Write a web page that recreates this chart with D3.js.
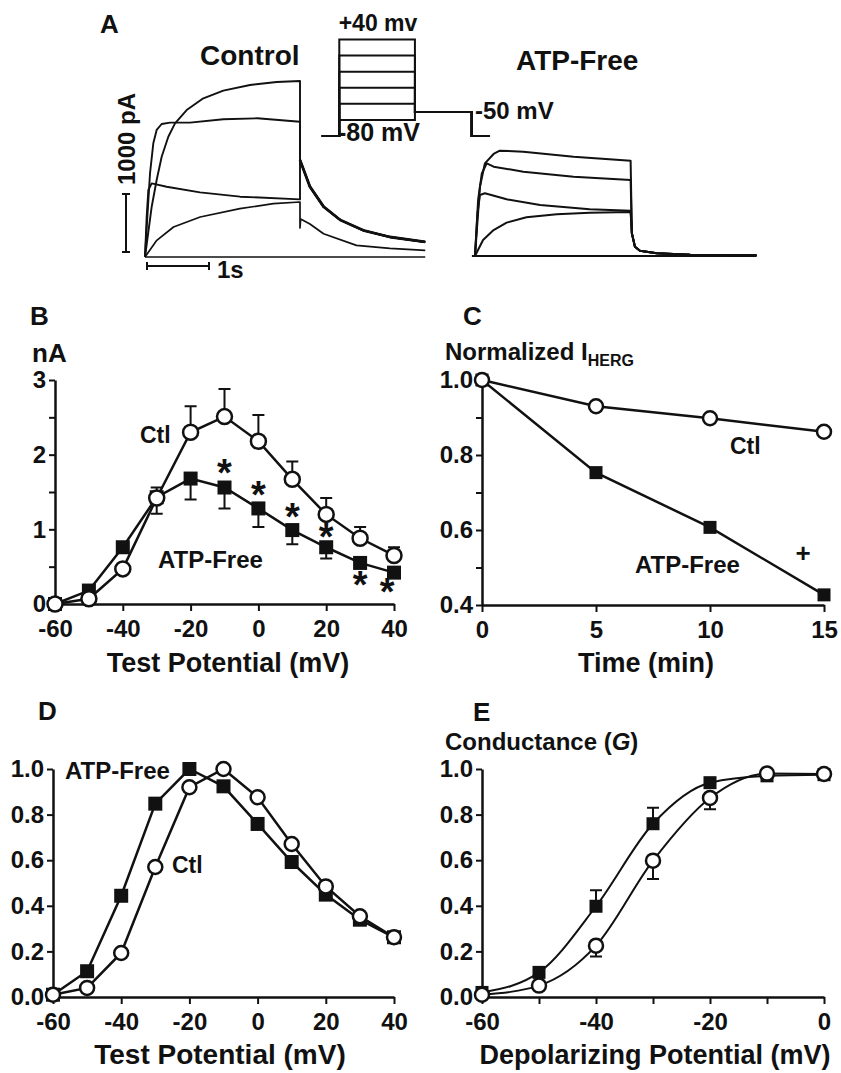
<!DOCTYPE html>
<html>
<head>
<meta charset="utf-8">
<script src="https://cdn.jsdelivr.net/npm/d3@7"></script>
<style>
  body { margin: 0; background: #fff; }
  svg text { font-family: "Liberation Sans", Arial, sans-serif; font-weight: bold; fill: #111; }
</style>
</head>
<body>
<svg id="fig" width="841" height="1073"></svg>
<script>
// ---- data ----
// panel A: current traces, [time (s), current (pA)]
const ctlTrace1 = [[0,0],[0.108,867],[0.188,1328],[0.269,1729],[0.376,2074],[0.484,2305],[0.672,2534],[0.941,2736],[1.263,2868],[1.694,2966],[2.124,3017],[2.5,3034]];
const ctlTrace2 = [[0,0],[0.038,695],[0.081,1443],[0.134,1960],[0.188,2190],[0.269,2293],[0.403,2316],[0.726,2316],[1.263,2374],[1.81,2391],[2.5,2333]];
const ctlTrace3 = [[0,0],[0.027,695],[0.054,1155],[0.108,1270],[0.349,1212],[0.887,1115],[1.532,1040],[2.5,994]];
const ctlTrace4 = [[0,0],[0.19,287],[0.46,517],[0.89,690],[1.53,833],[2.07,920],[2.5,948]];
const ctlTailBig = [[2.5,1672],[2.66,1213],[2.88,868],[3.15,638],[3.52,460],[3.95,345],[4.52,259]];
const ctlTailSmall = [[2.5,500],[2.51,655],[2.66,570],[2.88,402],[3.41,201],[3.95,150],[4.52,115]];

const atpTrace1 = [[0,0],[0.08,1195],[0.16,1598],[0.30,1759],[0.40,1816],[0.78,1799],[1.59,1713],[2.51,1644]];
const atpTrace2 = [[0,0],[0.05,966],[0.11,1425],[0.19,1598],[0.30,1540],[0.78,1454],[1.59,1368],[2.51,1310]];
const atpTrace3 = [[0,0],[0.04,736],[0.08,1052],[0.16,1081],[0.51,977],[1.05,879],[1.85,805],[2.51,781]];
const atpTrace4 = [[0,0],[0.13,276],[0.30,448],[0.51,575],[0.83,667],[1.32,718],[1.85,747],[2.51,759]];
const atpTail = [[2.53,391],[2.58,161],[2.66,92],[2.93,46],[3.47,23],[4.54,11]];

// voltage protocol (mV, s)
const stepLevels = [-60, -40, -20, 0, 20, 40];
const holdMv = -80, tailMv = -50;
const protoTimes = [0, 0.93, 4.93, 7.93, 8.9];

// panel B: I-V (nA)
const voltages = [-60, -50, -40, -30, -20, -10, 0, 10, 20, 30, 40];
const ivCtl = [0, 0.07, 0.47, 1.42, 2.30, 2.51, 2.18, 1.67, 1.20, 0.88, 0.65];
const ivCtlErr = [0, 0, 0.03, 0.14, 0.35, 0.37, 0.35, 0.24, 0.22, 0.15, 0.11];
const ivAtp = [0, 0.18, 0.76, 1.43, 1.68, 1.56, 1.28, 0.99, 0.76, 0.55, 0.42];
const ivAtpErr = [0, 0, 0.05, 0.22, 0.28, 0.28, 0.25, 0.19, 0.15, 0.06, 0.04];
const starV = [-10, 0, 10, 20, 30, 38];
const starAt = [1.79, 1.50, 1.21, 0.94, 0.29, 0.20];

// panel C: time course
const times = [0, 5, 10, 15];
const tcCtl = [1.0, 0.93, 0.898, 0.862];
const tcAtp = [1.0, 0.753, 0.607, 0.427];

// panel D: normalized I-V
const normCtl = [0.01, 0.04, 0.193, 0.57, 0.92, 1.0, 0.876, 0.671, 0.485, 0.354, 0.262];
const normAtp = [0.01, 0.113, 0.444, 0.848, 1.0, 0.924, 0.759, 0.592, 0.449, 0.339, 0.262];

// panel E: conductance
const gV = [-60, -50, -40, -30, -20, -10, 0];
const gCtl = [0.01, 0.05, 0.225, 0.598, 0.873, 0.98, 0.978];
const gCtlErr = [0, 0, 0.047, 0.08, 0.05, 0, 0];
const gAtp = [0.02, 0.108, 0.398, 0.76, 0.94, 0.97, 0.975];
const gAtpErr = [0, 0, 0.07, 0.07, 0, 0, 0];

// ---- drawing ----
const ink = '#111';
const svg = d3.select('#fig');

function label(txt, x, y, size, anchor) {
  return svg.append('text').attr('x', x).attr('y', y)
    .attr('font-size', size).attr('text-anchor', anchor || 'start').text(txt);
}

// panel A
const tC = d3.scaleLinear([0, 1], [145, 207]);
const iC = d3.scaleLinear([0, 1000], [257, 199]);
const tA = d3.scaleLinear([0, 1], [475, 537]);
const iA = d3.scaleLinear([0, 1000], [256, 198]);

function trace(pts, ts, is, w) {
  svg.append('path')
    .attr('d', d3.line().x(d => ts(d[0])).y(d => is(d[1]))(pts))
    .attr('fill', 'none').attr('stroke', ink).attr('stroke-width', w)
    .attr('stroke-linejoin', 'round');
}

trace([[0, 0], [4.52, 0]], tC, iC, 1.6);
[ctlTrace1, ctlTrace2, ctlTrace3].forEach(tr => trace(tr.concat(ctlTailBig), tC, iC, 1.9));
trace(ctlTrace4.concat(ctlTailSmall), tC, iC, 1.7);
trace(ctlTailBig, tC, iC, 2.8);

trace([[-0.05, 0], [4.54, 0]], tA, iA, 1.8);
[atpTrace1, atpTrace2, atpTrace3, atpTrace4].forEach(tr => trace(tr.concat(atpTail), tA, iA, 2));

// scale bars
svg.append('path')
  .attr('d', `M126,${iC(1000) - 5}V${iC(0) - 5}M122,${iC(1000) - 5}H130M122,${iC(0) - 5}H130`)
  .attr('stroke', ink).attr('stroke-width', 2).attr('fill', 'none');
svg.append('path')
  .attr('d', `M${tC(0) + 2},266H${tC(1) + 2}M${tC(0) + 2},262V270M${tC(1) + 2},262V270`)
  .attr('stroke', ink).attr('stroke-width', 2).attr('fill', 'none');
label('1s', 217, 278, 24);
svg.append('text').attr('transform', 'translate(135,139) rotate(-90)')
  .attr('font-size', 24).attr('text-anchor', 'middle').text('1000 pA');

// protocol
const pT = d3.scaleLinear([0, 8.9], [321.7, 490]);
const pV = d3.scaleLinear([-80, 40], [136, 39.5]);
const [t0, t1, t2, t3, t4] = protoTimes;
stepLevels.forEach(lv => {
  const pts = [[t0, holdMv], [t1, holdMv], [t1, lv], [t2, lv], [t2, tailMv], [t3, tailMv], [t3, holdMv], [t4, holdMv]];
  svg.append('path')
    .attr('d', d3.line().x(d => pT(d[0])).y(d => pV(d[1]))(pts))
    .attr('fill', 'none').attr('stroke', ink).attr('stroke-width', 2);
});
label('+40 mv', 378, 31, 23, 'middle');
label('-80 mV', 338, 141, 25);
label('-50 mV', 475, 119, 24);
label('A', 100, 33, 26);
label('Control', 200, 65, 28);
label('ATP-Free', 516, 70, 28);

// xy panels
function panel(o) {
  const x = d3.scaleLinear(o.xDomain, o.xRange);
  const y = d3.scaleLinear(o.yDomain, o.yRange);
  const g = svg.append('g');
  g.append('g').attr('transform', `translate(0,${o.yRange[0]})`)
    .call(d3.axisBottom(x).tickValues(o.xTicks).tickFormat(o.xFormat)
      .tickSize(7).tickSizeOuter(0).tickPadding(9));
  g.append('g').attr('transform', `translate(${o.xRange[0]},0)`)
    .call(d3.axisLeft(y).tickValues(o.yTicks).tickFormat(o.yFormat)
      .tickSize(6).tickSizeOuter(0).tickPadding(3));
  g.selectAll('.domain').attr('stroke', ink).attr('stroke-width', 2.5);
  g.selectAll('.tick line').attr('stroke', ink).attr('stroke-width', 2);
  g.selectAll('.tick text').attr('font-size', 24).attr('fill', ink);
  return { g, x, y };
}

function series(p, xs, ys, opt) {
  const pts = xs.map((v, i) => [p.x(v), p.y(ys[i])]);
  if (opt.err) {
    const dir = opt.errDir;
    xs.forEach((v, i) => {
      const e = opt.err[i];
      if (!e) return;
      const yEnd = p.y(ys[i] + dir * e);
      p.g.append('path')
        .attr('d', `M${pts[i][0]},${pts[i][1]}V${yEnd}M${pts[i][0] - 6},${yEnd}H${pts[i][0] + 6}`)
        .attr('stroke', ink).attr('stroke-width', 2).attr('fill', 'none');
    });
  }
  const line = d3.line().curve(opt.curve || d3.curveLinear);
  p.g.append('path').attr('d', line(pts))
    .attr('fill', 'none').attr('stroke', ink).attr('stroke-width', opt.lw || 2.5);
  const r = opt.r || 7;
  if (opt.shape === 'circle') {
    p.g.selectAll(null).data(pts).join('circle')
      .attr('cx', d => d[0]).attr('cy', d => d[1]).attr('r', r)
      .attr('fill', '#fff').attr('stroke', ink).attr('stroke-width', 2.5);
  } else {
    p.g.selectAll(null).data(pts).join('rect')
      .attr('x', d => d[0] - r).attr('y', d => d[1] - r)
      .attr('width', 2 * r).attr('height', 2 * r).attr('fill', ink);
  }
}

const intFmt = d => String(d);

// B
const pB = panel({
  xDomain: [-60, 40], xRange: [55, 394], xTicks: [-60, -40, -20, 0, 20, 40], xFormat: intFmt,
  yDomain: [0, 3], yRange: [604, 380], yTicks: [0, 0.5, 1, 1.5, 2, 2.5, 3],
  yFormat: d => (d % 1 === 0 ? String(d) : '')
});
series(pB, voltages, ivAtp, { shape: 'square', r: 7, err: ivAtpErr, errDir: -1 });
series(pB, voltages, ivCtl, { shape: 'circle', r: 7.5, err: ivCtlErr, errDir: 1 });
pB.g.selectAll(null).data(starV).join('text')
  .attr('x', d => pB.x(d)).attr('y', (d, i) => pB.y(starAt[i]))
  .attr('dy', '0.42em').attr('text-anchor', 'middle').attr('font-size', 38).text('*');
label('B', 30, 325, 26);
label('nA', 32, 362, 26);
label('Ctl', 140, 443, 23);
label('ATP-Free', 158, 568, 24);
label('Test Potential (mV)', 228, 672, 27, 'middle');

// C
const pC = panel({
  xDomain: [0, 15], xRange: [482, 824], xTicks: times, xFormat: intFmt,
  yDomain: [0.4, 1.0], yRange: [605, 380], yTicks: [0.4, 0.5, 0.6, 0.7, 0.8, 0.9, 1.0],
  yFormat: d => (Math.round(d * 10) % 2 === 0 ? d3.format('.1f')(d) : '')
});
series(pC, times, tcAtp, { shape: 'square', r: 6.5 });
series(pC, times, tcCtl, { shape: 'circle', r: 7 });
label('C', 463, 325, 26);
const nt = label('Normalized I', 445, 360, 24);
nt.append('tspan').attr('font-size', 16).attr('dy', 6).text('HERG');
label('Ctl', 730, 454, 23);
label('ATP-Free', 635, 573, 24);
label('+', 803, 562, 26, 'middle');
label('Time (min)', 646, 672, 27, 'middle');

// D
const pD = panel({
  xDomain: [-60, 40], xRange: [53, 394], xTicks: [-60, -40, -20, 0, 20, 40], xFormat: intFmt,
  yDomain: [0, 1], yRange: [997, 769], yTicks: [0, 0.2, 0.4, 0.6, 0.8, 1.0], yFormat: d3.format('.1f')
});
series(pD, voltages, normAtp, { shape: 'square', r: 7 });
series(pD, voltages, normCtl, { shape: 'circle', r: 7 });
label('D', 38, 720, 26);
label('ATP-Free', 65, 779, 24);
label('Ctl', 172, 873, 23);
label('Test Potential (mV)', 220, 1064, 28, 'middle');

// E
const pE = panel({
  xDomain: [-60, 0], xRange: [482, 824], xTicks: [-60, -50, -40, -30, -20, -10, 0],
  xFormat: d => (d % 20 === 0 ? String(d) : ''),
  yDomain: [0, 1], yRange: [997, 769], yTicks: [0, 0.2, 0.4, 0.6, 0.8, 1.0], yFormat: d3.format('.1f')
});
series(pE, gV, gAtp, { shape: 'square', r: 6.5, err: gAtpErr, errDir: 1, curve: d3.curveMonotoneX, lw: 2 });
series(pE, gV, gCtl, { shape: 'circle', r: 7, err: gCtlErr, errDir: -1, curve: d3.curveMonotoneX, lw: 2 });
label('E', 473, 721, 26);
const ct = label('Conductance (', 445, 750, 24);
ct.append('tspan').attr('font-style', 'italic').text('G');
ct.append('tspan').text(')');
label('Depolarizing Potential (mV)', 655, 1064, 27, 'middle');
</script>
</body>
</html>
